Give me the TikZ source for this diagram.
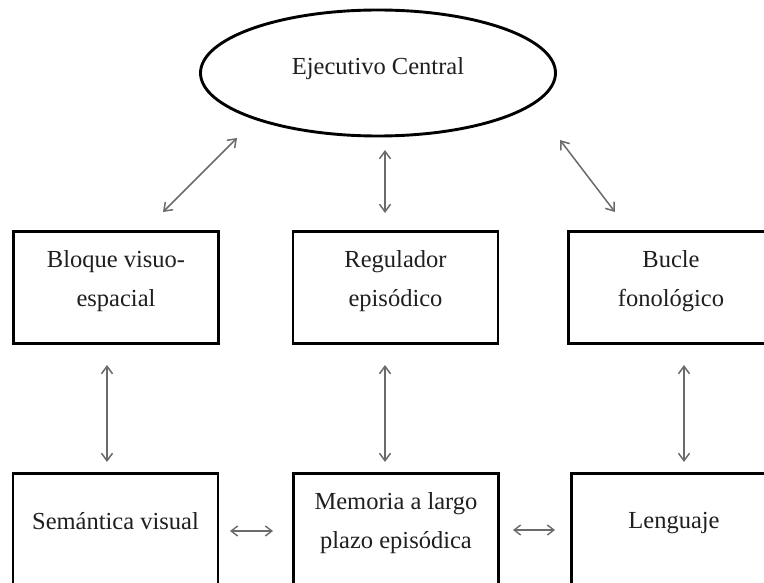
\documentclass[tikz,border=0pt]{standalone}
\usepackage{fontspec}
\setmainfont{Liberation Serif}
\usetikzlibrary{arrows.meta,shapes.geometric}
\begin{document}
\begin{tikzpicture}[x=1pt,y=-1pt,
  box/.style={draw=black,line width=2.9pt,minimum width=205pt,minimum height=112pt,
    inner sep=0pt,align=center,font=\fontsize{24.5}{38.5}\selectfont,text=black!88,
    execute at end node={\rule[-18pt]{0pt}{18pt}}},
  oval/.style={draw=black,line width=2.9pt,ellipse,minimum width=355pt,minimum height=126pt,
    inner sep=0pt,font=\fontsize{24.5}{38.5}\selectfont,text=black!88,
    execute at end node={\rule[-13pt]{0pt}{13pt}}},
  conn/.style={draw=black!58,line width=1.5pt,{Straight Barb[length=7.5pt,width=11pt]}-{Straight Barb[length=7.5pt,width=11pt]}},
  sconn/.style={draw=black!58,line width=1.4pt,{Straight Barb[length=6.5pt,width=10pt]}-{Straight Barb[length=6.5pt,width=10pt]}},
]
\clip (0,0) rectangle (764,583);
\fill[white] (0,0) rectangle (764,583);

% central executive
\node[oval] (ec) at (378,73) {Ejecutivo Central};

% middle row
\node[box] (bv) at (116,287.5) {Bloque visuo-\\espacial};
\node[box] (re) at (395.5,287.5) {Regulador\\episódico};
\node[box] (bf) at (671,287.5) {Bucle\\fonológico};

% bottom row (runs past the lower edge)
\node[box] (sv) at (115.5,529.5) {Semántica visual};
\node[box] (ml) at (396,529.5) {Memoria a largo\\plazo episódica};
\node[box] (le) at (674,529.5) {Lenguaje};

% arrow end points
\coordinate (ecL) at (237,138);  \coordinate (bvT) at (163,212);
\coordinate (ecM) at (385,150);  \coordinate (reT) at (385,213);
\coordinate (ecR) at (560,140);  \coordinate (bfT) at (615,212);
\coordinate (bvB) at (107,365);  \coordinate (svT) at (107,462);
\coordinate (reB) at (385,365);  \coordinate (mlT) at (385,462);
\coordinate (bfB) at (684,365);  \coordinate (leT) at (684,462);
\coordinate (svR) at (230,531);  \coordinate (mlL) at (273,531);
\coordinate (mlR) at (513,530);  \coordinate (leL) at (555,530);

\draw[conn] (ecL) -- (bvT);
\draw[conn] (ecM) -- (reT);
\draw[conn] (ecR) -- (bfT);
\draw[conn] (bvB) -- (svT);
\draw[conn] (reB) -- (mlT);
\draw[conn] (bfB) -- (leT);
\draw[sconn] (svR) -- (mlL);
\draw[sconn] (mlR) -- (leL);
\end{tikzpicture}
\end{document}
